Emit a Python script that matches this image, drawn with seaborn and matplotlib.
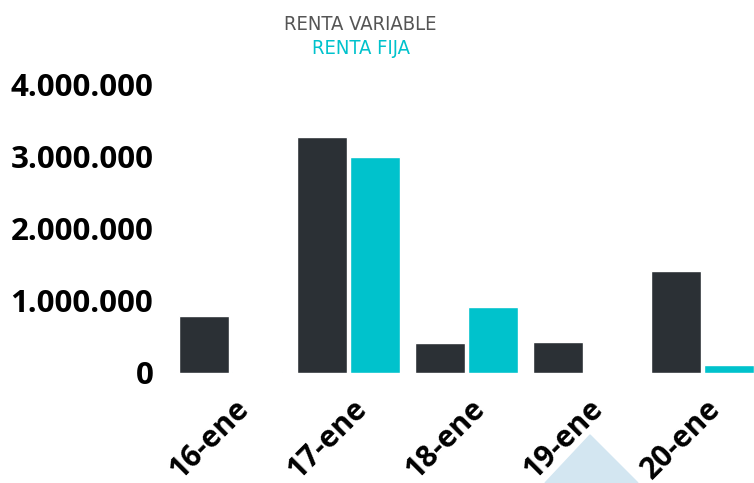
import numpy as np
import pandas as pd
import seaborn as sns
import matplotlib.pyplot as plt
from matplotlib.ticker import FuncFormatter
from matplotlib.patches import Polygon
from matplotlib.transforms import ScaledTranslation

sns.set_theme(style='white')
plt.rcParams['font.family'] = ['Open Sans', 'DejaVu Sans']

fechas = ['16-ene', '17-ene', '18-ene', '19-ene', '20-ene']
renta_variable = [790000, 3270000, 415000, 430000, 1410000]
renta_fija = [16000, 2990000, 910000, 0, 110000]
series = ['RENTA VARIABLE', 'RENTA FIJA']
colores = ['#2b3035', '#00c2cc']

df = pd.DataFrame({
    'fecha': fechas * 2,
    'valor': renta_variable + renta_fija,
    'tipo': [series[0]] * len(fechas) + [series[1]] * len(fechas),
})

fig = plt.figure(figsize=(7.54, 4.83), dpi=100)
ax = fig.add_axes([170 / 754, 110 / 483, 584 / 754, 289 / 483])

sns.barplot(data=df, x='fecha', y='valor', hue='tipo', palette=colores,
            width=0.9, gap=0.057, ax=ax, legend=False, saturation=1)

ax.set_ylim(0, 4000000)
ax.set_xlim(-0.513, 4.436)
ax.set_yticks([0, 1000000, 2000000, 3000000, 4000000])
ax.yaxis.set_major_formatter(FuncFormatter(lambda v, p: f'{int(v):,}'.replace(',', '.')))
ax.set_xlabel('')
ax.set_ylabel('')
for s in ax.spines.values():
    s.set_visible(False)
ax.tick_params(axis='y', length=0, pad=12, labelsize=22.5)
ax.tick_params(axis='x', length=0, pad=2, labelsize=21.5)
for lab in ax.get_yticklabels():
    lab.set_fontweight('bold')
    lab.set_color('black')
off = ScaledTranslation(3 / 100, -18 / 100, fig.dpi_scale_trans)
for lab in ax.get_xticklabels():
    lab.set_fontweight('bold')
    lab.set_color('black')
    lab.set_rotation(45)
    lab.set_ha('right')
    lab.set_va('top')
    lab.set_rotation_mode('anchor')
    lab.set_transform(lab.get_transform() + off)

# leyenda como titulo
fam = ['DejaVu Sans']
fig.text(360 / 754, 1 - 25 / 483, series[0], ha='center', va='center',
         color='#555555', fontsize=14.5, family=fam, stretch='condensed')
fig.text(361 / 754, 1 - 49 / 483, series[1], ha='center', va='center',
         color=colores[1], fontsize=14.5, family=fam, stretch='condensed')

# marca de agua
tri = Polygon([[545 / 754, 0], [590 / 754, 1 - 435 / 483], [638 / 754, 0]],
              closed=True, transform=fig.transFigure, color='#d3e6f1', zorder=-1)
fig.add_artist(tri)

fig.savefig('out.png', dpi=100)
